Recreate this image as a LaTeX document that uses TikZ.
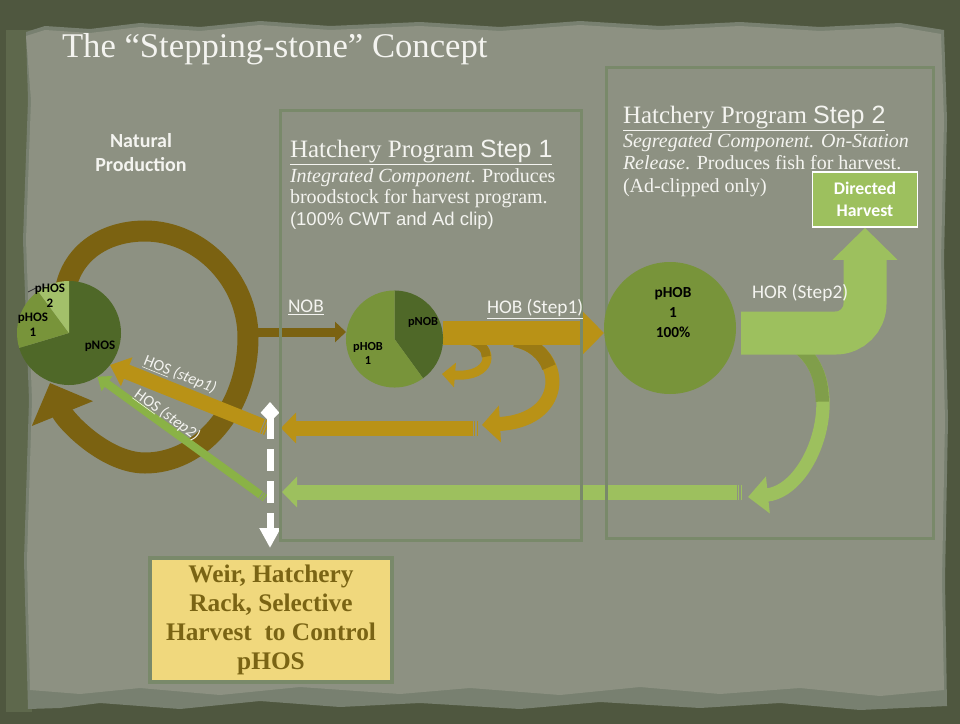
\documentclass[tikz,border=0pt]{standalone}
\usepackage{fontspec}
\setmainfont{Liberation Serif}
\newfontfamily\calib{Carlito}
\newfontfamily\arialf{Liberation Sans}
\usetikzlibrary{arrows.meta}
\definecolor{outerbg}{HTML}{4F573F}
\definecolor{leftband}{HTML}{5E684C}
\definecolor{paper}{HTML}{8D9182}
\definecolor{paperedge}{HTML}{788070}
\definecolor{frame}{HTML}{79896A}
\definecolor{pdark}{HTML}{4F6828}
\definecolor{pmid}{HTML}{78943A}
\definecolor{plight}{HTML}{A3C06A}
\definecolor{brownA}{HTML}{7B6211}
\definecolor{gold}{HTML}{B99216}
\definecolor{golddk}{HTML}{9A7A14}
\definecolor{lgreen}{HTML}{9DC05E}
\definecolor{lgreendk}{HTML}{809E4A}
\definecolor{dgreen}{HTML}{8AB246}
\definecolor{weirfill}{HTML}{F0D87D}
\definecolor{weirtext}{HTML}{7A6414}
\definecolor{txt}{HTML}{F4F4F0}
\tikzset{
  lbl/.style={inner sep=0pt, outer sep=0pt, text=txt},
  pielbl/.style={inner sep=0pt, text=black, align=center},
  framebox/.style={draw=frame, line width=2.25pt},
  tailstripes/.style={dash pattern=on 1.1pt off 0.9pt on 1.1pt off 0.9pt on 3000pt off 0pt},
  pie/.style={circle, inner sep=0pt, outer sep=0pt},
  serifbody/.style={lbl, anchor=base west, font=\fontsize{15pt}{18pt}\selectfont},
  heading/.style={lbl, anchor=base west, font=\fontsize{18.75pt}{22pt}\selectfont},
  arrlbl/.style={lbl, anchor=base west, font=\calib\fontsize{14.5pt}{17pt}\selectfont},
  hoslbl/.style={lbl, font=\calib\fontsize{12pt}{14pt}\selectfont},
}
\begin{document}
\begin{tikzpicture}[x=0.75pt,y=-0.75pt]
\useasboundingbox (0,0) rectangle (960,724);
% background
\fill[outerbg] (0,0) rectangle (960,724);
\fill[leftband] (6,30) rectangle (32,712);
\fill[paperedge] (26,32) -- (45,26) -- (90,29) -- (140,23) -- (200,27) -- (260,21) -- (330,26) -- (420,22) -- (500,27) -- (580,21) -- (660,26) -- (740,22) -- (820,27) -- (900,23) -- (944,30) -- (947,120) -- (944,260) -- (948,420) -- (945,580) -- (947,706) -- (860,710) -- (780,703) -- (700,708) -- (600,702) -- (520,709) -- (420,703) -- (340,707) -- (260,701) -- (180,709) -- (100,703) -- (60,708) -- (28,709) -- (24,560) -- (29,400) -- (23,240) -- (28,100) -- cycle;
\fill[paper] (26,36) -- (45,30) -- (90,33) -- (140,27) -- (200,31) -- (260,25) -- (330,30) -- (420,26) -- (500,31) -- (580,25) -- (660,30) -- (740,26) -- (820,31) -- (900,27) -- (941,34) -- (944,120) -- (941,260) -- (945,420) -- (942,580) -- (944,690) -- (880,696) -- (800,688) -- (720,694) -- (640,687) -- (560,695) -- (470,688) -- (400,694) -- (300,687) -- (220,695) -- (140,688) -- (80,694) -- (30,690) -- (27,560) -- (32,400) -- (26,240) -- (31,100) -- cycle;

% named points
\node[pie, minimum size=78pt] (natpie) at (69,333) {};
\node[pie, minimum size=72.75pt] (pie1) at (394.5,339) {};
\node[pie, minimum size=99pt] (pie2) at (670,328) {};
\coordinate (nobs) at (258,332);
\coordinate (hob) at (0,333);
\coordinate (horS) at (741,333);
\coordinate (g1tail) at (478,428);
\coordinate (g1tip) at (281,428);
\coordinate (g2tail) at (742,492);
\coordinate (g2tip) at (282,492);
\coordinate (hos1tail) at (267,428);
\coordinate (hos2tail) at (265,498);
\coordinate (wtop) at (270,402);
\coordinate (wbot) at (270,548);

% brown loop around natural production
\draw[brownA, line width=15.75pt, -{Triangle[length=24.75pt,width=48pt]}]
  (64,305) .. controls (64,258) and (100,231) .. (145,231)
  .. controls (200,231) and (248,280) .. (248,337)
  .. controls (248,410) and (200,463) .. (145,463)
  .. controls (105,463) and (65,420) .. (50,383);

% gold curved returns
\draw[gold, line width=6.75pt, -{Triangle[length=9.75pt,width=18pt]}]
  (470,340) .. controls (497,348) and (492,378) .. (442,374);
\draw[golddk, line width=6.75pt] (470,340) .. controls (480.8,343.2) and (486.5,349.9) .. (486.2,356.6);
\draw[gold, line width=10.5pt, -{Triangle[length=13.5pt,width=27pt]}]
  (515,340) .. controls (565,350) and (570,420) .. (482,425);
\draw[golddk, line width=10.5pt] (515,340) .. controls (532.5,343.5) and (544.5,354.4) .. (548.9,367.2);

% green curved return
\draw[lgreen, line width=10pt, -{Triangle[length=15pt,width=27pt]}]
  (795,345) .. controls (850,380) and (815,490) .. (748,497);
\draw[lgreendk, line width=10pt] (795,345) .. controls (814.3,357.3) and (822.5,378.7) .. (822.2,401.7);

% NOB
\draw[brownA, line width=6.75pt, -{Triangle[length=8.25pt,width=15pt]}] (nobs) -- (nobs -| pie1.west);
% HOB
\draw[gold, line width=18pt, -{Triangle[length=15.75pt,width=30.75pt]}] (pie1.east |- hob) -- (pie2.west |- hob);

% Directed harvest box (needed for HOR end)
\node[draw=white, line width=1.2pt, fill=lgreen, minimum width=78.75pt, minimum height=41.25pt, inner sep=0pt, text=white, font=\calib\bfseries\fontsize{13.3pt}{16.5pt}\selectfont, align=center] (dh) at (865,199.5) {Directed\\Harvest};
% HOR
\draw[lgreen, line width=32.25pt, rounded corners=22pt, -{Triangle[length=24pt,width=47.25pt]}] (horS) -| (dh.south);

% straight returns
\draw[gold, line width=11.25pt, tailstripes, -{Triangle[length=11.25pt,width=22.5pt]}] (g1tail) -- (g1tip);
\draw[lgreen, line width=11.25pt, tailstripes, -{Triangle[length=11.25pt,width=22.5pt]}] (g2tail) -- (g2tip);
\draw[gold, line width=11.25pt, tailstripes, -{Triangle[length=13.5pt,width=22.5pt]}] (hos1tail) -- (natpie.-38);
\draw[dgreen, line width=6pt, tailstripes, -{Triangle[length=9pt,width=13.5pt]}] (hos2tail) -- (natpie.-57);

% white dashed control line
\draw[white, line width=5.25pt, dash pattern=on 16.5pt off 7.5pt, {Kite[length=15pt,width=14pt,inset=7pt]}-{Triangle[length=15pt,width=15pt]}] (wtop) -- (wbot);

% frames
\draw[framebox] (280,110) rectangle (581,540);
\draw[framebox] (606,68) rectangle (933,538);

% pies
\fill[pdark] (natpie.center) -- +(196.7:39pt) arc[start angle=196.7,end angle=450,radius=39pt] -- cycle;
\fill[pmid] (natpie.center) -- +(126.5:39pt) arc[start angle=126.5,end angle=196.7,radius=39pt] -- cycle;
\fill[plight] (natpie.center) -- +(90:39pt) arc[start angle=90,end angle=126.5,radius=39pt] -- cycle;
\fill[pdark] (pie1.center) -- +(-54:36.4pt) arc[start angle=-54,end angle=90,radius=36.4pt] -- cycle;
\fill[pmid] (pie1.center) -- +(90:36.4pt) arc[start angle=90,end angle=306,radius=36.4pt] -- cycle;
\fill[pmid] (pie2.center) circle[radius=49.5pt];
\draw[black!80, line width=0.6pt] (28,292) -- (36,288);

% pie labels
\node[pielbl, font=\calib\bfseries\fontsize{9.75pt}{11.25pt}\selectfont] (lh2) at (50,295.5) {pHOS\\2};
\node[pielbl, font=\calib\bfseries\fontsize{9.75pt}{11.25pt}\selectfont] (lh1) at (33,324.5) {pHOS\\1};
\node[pielbl, font=\calib\bfseries\fontsize{9.75pt}{11.25pt}\selectfont] (lno) at (100,346) {pNOS};
\node[pielbl, font=\calib\bfseries\fontsize{9.25pt}{10.5pt}\selectfont] (lnob) at (423,322) {pNOB};
\node[pielbl, font=\calib\bfseries\fontsize{9.25pt}{10.5pt}\selectfont] (lhob) at (368,353) {pHOB\\1};
\node[pielbl, font=\calib\bfseries\fontsize{11.5pt}{15pt}\selectfont] (lhob2) at (673,313) {pHOB\\1\\100\%};

% texts
\node[lbl, anchor=base west, font=\fontsize{26pt}{30pt}\selectfont] (title) at (62,58) {The “Stepping-stone” Concept};
\node[lbl, anchor=base, font=\calib\bfseries\fontsize{15pt}{18pt}\selectfont] (nat1) at (141,147) {Natural};
\node[lbl, anchor=base, font=\calib\bfseries\fontsize{15pt}{18pt}\selectfont] (nat2) at (141,171) {Production};

\node[heading] (h1) at (290,157) {\underline{Hatchery Program {\arialf Step 1}}};
\node[serifbody] (h1a) at (290,182) {\textit{Integrated Component}. Produces};
\node[serifbody] (h1b) at (290,203) {broodstock for harvest program.};
\node[lbl, anchor=base west, font=\arialf\fontsize{13.9pt}{16pt}\selectfont] (h1c) at (290,225) {(100\% CWT and Ad clip)};

\node[heading] (h2) at (623,123) {\underline{Hatchery Program {\arialf Step 2}}};
\node[serifbody] (h2a) at (623,147) {\textit{Segregated Component. On-Station}};
\node[serifbody] (h2b) at (623,169) {\textit{Release}. Produces fish for harvest.};
\node[serifbody] (h2c) at (623,192) {(Ad-clipped only)};

\node[arrlbl] (nob) at (288,312) {\underline{NOB}};
\node[arrlbl] (hobl) at (487,313) {\underline{HOB (Step1)}};
\node[arrlbl] (horl) at (752,298) {HOR (Step2)};
\node[hoslbl, rotate=-22] (hos1) at (180,375) {\underline{HOS} \textit{(step1)}};
\node[hoslbl, rotate=-36] (hos2) at (167,415) {\underline{HOS} \textit{(step2)}};

\node[draw=frame, line width=3pt, fill=weirfill, minimum width=181.5pt, minimum height=93pt, inner sep=0pt, text=weirtext, font=\bfseries\fontsize{19pt}{21.75pt}\selectfont, align=center] (weir) at (271,620) {Weir, Hatchery\\Rack, Selective\\Harvest\ \ to Control\\pHOS};
\end{tikzpicture}
\end{document}
